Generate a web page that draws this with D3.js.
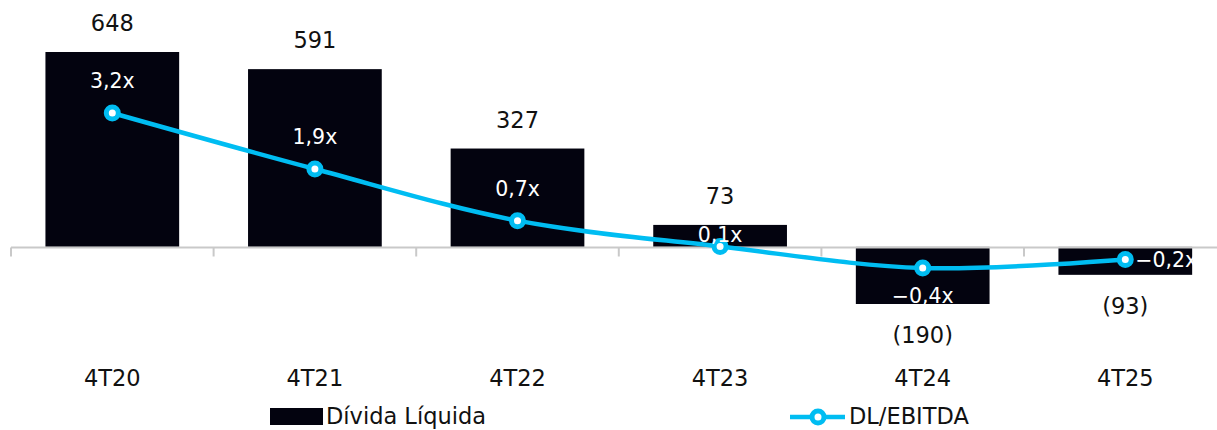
<!DOCTYPE html>
<html><head><meta charset="utf-8">
<script src="https://cdn.jsdelivr.net/npm/d3@7"></script>
<style>
html,body{margin:0;padding:0;background:#fff;}
svg{display:block;font-family:"DejaVu Sans",sans-serif;}
</style></head>
<body><svg id="chart" width="1217" height="430"></svg>
<script>
const categories = ["4T20","4T21","4T22","4T23","4T24","4T25"];
const dividaLiquida = [648, 591, 327, 73, -190, -93];
const dlEbitda = [3.2, 1.9, 0.7, 0.1, -0.4, -0.2];
const dlEbitdaLabels = ["3,2x","1,9x","0,7x","0,1x","\u22120,4x","\u22120,2x"];
const barLabels = ["648","591","327","73","(190)","(93)"];
const ratioLabelPlacement = ["above","above","above","near","below","right"];
const legendNames = ["Dívida Líquida","DL/EBITDA"];

const svg = d3.select("#chart");
const barColor = "#03030F";
const lineColor = "#00BDF2";
const fs = 22.5;
const fsW = 20.5;

const x = d3.scaleBand().domain(categories).range([11, 1226.6]).paddingInner(0.34).paddingOuter(0.17);
const y = d3.scaleLinear().domain([-190, 648]).range([304, 52]);
const y2 = d3.scaleLinear().domain([-0.4, 3.2]).range([268, 113]);

// bars
svg.append("g").selectAll("rect").data(categories).join("rect")
  .attr("x", d => x(d))
  .attr("width", x.bandwidth())
  .attr("y", (d,i) => Math.min(y(dividaLiquida[i]), y(0)))
  .attr("height", (d,i) => Math.abs(y(dividaLiquida[i]) - y(0)))
  .attr("fill", barColor);

// axis
const y0 = Math.round(y(0)) + 0.5;
const axis = svg.append("g");
axis.append("line").attr("x1", 11).attr("x2", 1226.6).attr("y1", y0).attr("y2", y0)
  .attr("stroke", "#C9C9C9").attr("stroke-width", 2);
const step = x.step();
axis.selectAll("line.tick").data(d3.range(categories.length + 1)).join("line")
  .attr("class","tick")
  .attr("x1", i => 11 + i*step).attr("x2", i => 11 + i*step)
  .attr("y1", y0).attr("y2", y0 + 9)
  .attr("stroke", "#C9C9C9").attr("stroke-width", 2);

// category labels
svg.append("g").selectAll("text").data(categories).join("text")
  .attr("x", d => x(d) + x.bandwidth()/2)
  .attr("y", 386)
  .attr("text-anchor","middle")
  .attr("font-size", fs)
  .attr("fill", "#111")
  .text(d => d);

// bar value labels
svg.append("g").selectAll("text").data(categories).join("text")
  .attr("x", d => x(d) + x.bandwidth()/2)
  .attr("y", (d,i) => dividaLiquida[i] >= 0 ? y(dividaLiquida[i]) - 21 : y(dividaLiquida[i]) + 39)
  .attr("text-anchor","middle")
  .attr("font-size", fs)
  .attr("fill", "#111")
  .text((d,i) => barLabels[i]);

// line
const cx = d => x(d) + x.bandwidth()/2;
const line = d3.line().x((d,i) => cx(categories[i])).y(d => y2(d)).curve(d3.curveCatmullRom.alpha(0.5));
svg.append("path").datum(dlEbitda).attr("d", line)
  .attr("fill","none").attr("stroke", lineColor).attr("stroke-width", 4.5);
svg.append("g").selectAll("circle").data(dlEbitda).join("circle")
  .attr("cx", (d,i) => cx(categories[i])).attr("cy", d => y2(d))
  .attr("r", 6).attr("fill", "#fff").attr("stroke", lineColor).attr("stroke-width", 5);

// ratio labels
svg.append("g").selectAll("text").data(dlEbitda).join("text")
  .attr("x", (d,i) => ratioLabelPlacement[i] === "right" ? cx(categories[i]) + 10 : cx(categories[i]))
  .attr("y", (d,i) => {
    const p = ratioLabelPlacement[i], py = y2(d);
    if (p === "above") return py - 25;
    if (p === "near") return py - 4;
    if (p === "below") return py + 35;
    return py + 8;
  })
  .attr("text-anchor", (d,i) => ratioLabelPlacement[i] === "right" ? "start" : "middle")
  .attr("font-size", fsW)
  .attr("fill", "#fff")
  .text((d,i) => dlEbitdaLabels[i]);

// legend
const lg = svg.append("g");
lg.append("rect").attr("x", 270).attr("y", 408).attr("width", 53).attr("height", 17).attr("fill", barColor);
lg.append("text").attr("x", 326).attr("y", 424).attr("font-size", fs).attr("fill","#111").text(legendNames[0]);
lg.append("line").attr("x1", 790).attr("x2", 845).attr("y1", 417).attr("y2", 417)
  .attr("stroke", lineColor).attr("stroke-width", 4.5);
lg.append("circle").attr("cx", 818).attr("cy", 417).attr("r", 6).attr("fill","#fff")
  .attr("stroke", lineColor).attr("stroke-width", 5);
lg.append("text").attr("x", 849).attr("y", 424).attr("font-size", fs).attr("fill","#111").text(legendNames[1]);
</script></body></html>
